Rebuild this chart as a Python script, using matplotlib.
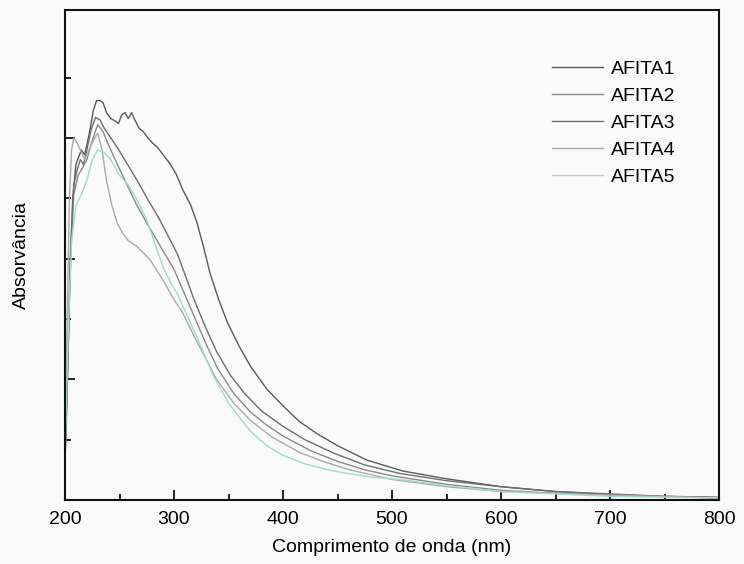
import numpy as np
import matplotlib
matplotlib.use("Agg")
import matplotlib.pyplot as plt
from matplotlib.ticker import FixedLocator, MultipleLocator

plt.rcParams['font.family'] = ['Liberation Sans', 'DejaVu Sans']

# wavelength (nm) and absorbance (arb. units)
wl1 = [200, 201, 204, 207, 210, 212, 215, 218, 220, 223, 226, 229, 232, 235, 238, 242, 246, 249,
       252, 255, 258, 261, 264, 268, 272, 276, 280, 285, 290, 296, 302, 308, 315, 321, 327, 333,
       341, 349, 360, 370, 385, 400, 415, 431, 450, 477, 510, 547, 600, 650, 700, 750, 800]
a1 = [0.35, 0.58, 1.66, 2.49, 2.78, 2.83, 2.90, 2.86, 2.94, 3.07, 3.23, 3.31, 3.31, 3.29, 3.21, 3.16,
      3.14, 3.12, 3.19, 3.21, 3.16, 3.21, 3.15, 3.08, 3.05, 3.00, 2.96, 2.92, 2.86, 2.79, 2.70, 2.57,
      2.45, 2.30, 2.10, 1.88, 1.66, 1.47, 1.27, 1.11, 0.92, 0.78, 0.65, 0.55, 0.45, 0.33, 0.24, 0.18,
      0.11, 0.07, 0.045, 0.028, 0.018]

wl2 = [200, 202, 205, 208, 212, 216, 220, 225, 230, 235, 240, 248, 257, 266, 276, 287, 300, 310,
       320, 330, 340, 355, 370, 385, 400, 425, 450, 475, 500, 550, 600, 650, 700, 800]
a2 = [0.33, 0.91, 1.99, 2.53, 2.69, 2.75, 2.82, 2.98, 3.11, 3.05, 2.94, 2.78, 2.61, 2.44, 2.28, 2.11,
      1.91, 1.70, 1.49, 1.28, 1.09, 0.88, 0.73, 0.62, 0.53, 0.41, 0.32, 0.25, 0.20, 0.13, 0.08, 0.055,
      0.04, 0.022]

wl3 = [200, 202, 205, 208, 211, 214, 217, 220, 224, 228, 232, 236, 242, 248, 256, 266, 276, 287,
       295, 303, 310, 318, 328, 339, 352, 365, 380, 400, 420, 446, 475, 507, 550, 600, 650, 700,
       750, 800]
a3 = [0.33, 0.99, 2.07, 2.61, 2.73, 2.82, 2.78, 2.90, 3.07, 3.17, 3.15, 3.08, 3.00, 2.92, 2.80, 2.65,
      2.49, 2.32, 2.18, 2.04, 1.87, 1.67, 1.45, 1.23, 1.03, 0.88, 0.74, 0.61, 0.50, 0.39, 0.29, 0.22,
      0.16, 0.11, 0.07, 0.05, 0.03, 0.022]

wl4 = [200, 202, 204, 206, 208, 211, 214, 218, 222, 226, 230, 234, 238, 243, 248, 253, 258, 266,
       278, 290, 300, 308, 320, 339, 355, 370, 390, 416, 440, 461, 500, 550, 600, 700, 800]
a4 = [0.50, 1.49, 2.49, 2.90, 3.00, 2.96, 2.90, 2.82, 2.90, 2.98, 3.04, 2.90, 2.65, 2.44, 2.29, 2.21,
      2.15, 2.10, 1.99, 1.82, 1.66, 1.55, 1.33, 1.00, 0.80, 0.66, 0.52, 0.39, 0.31, 0.25, 0.17, 0.11,
      0.07, 0.04, 0.017]

wl5 = [200, 203, 206, 210, 215, 220, 225, 230, 236, 242, 250, 258, 266, 275, 283, 290, 297, 303,
       312, 322, 335, 350, 370, 385, 400, 420, 446, 480, 507, 550, 600, 650, 700, 800]
a5 = [0.41, 1.41, 2.15, 2.44, 2.53, 2.65, 2.82, 2.90, 2.88, 2.82, 2.69, 2.61, 2.49, 2.32, 2.11, 1.93,
      1.80, 1.71, 1.53, 1.33, 1.05, 0.80, 0.57, 0.45, 0.37, 0.30, 0.24, 0.19, 0.17, 0.12, 0.07, 0.05,
      0.03, 0.017]

series = [
    ("AFITA1", wl1, a1, "#5a5a5a"),
    ("AFITA2", wl2, a2, "#8a8a8a"),
    ("AFITA3", wl3, a3, "#6e6e6e"),
    ("AFITA4", wl4, a4, "#ababab"),
    ("AFITA5", wl5, a5, "#a3d9d2"),
]

fig = plt.figure(figsize=(7.44, 5.64), dpi=100, facecolor="#fafafa")
ax = fig.add_axes([0.0874, 0.1135, 0.879, 0.8688])
ax.set_facecolor("#fafafa")

for name, x, y, c in series:
    ax.plot(x, y, color=c, lw=1.0, label=name)

ax.set_xlim(200, 800)
ax.set_ylim(0, 4.06)
ax.xaxis.set_major_locator(MultipleLocator(100))
ax.xaxis.set_minor_locator(MultipleLocator(50))
ax.yaxis.set_major_locator(FixedLocator([0, 1, 2, 3]))
ax.yaxis.set_minor_locator(FixedLocator([0.5, 1.5, 2.5, 3.5]))
ax.tick_params(which="both", direction="in", top=False, right=False, labelsize=14, width=1.2)
ax.tick_params(which="major", length=7, pad=8)
ax.tick_params(which="minor", length=4)
ax.tick_params(axis="y", labelleft=False)
for s in ax.spines.values():
    s.set_linewidth(1.5)
    s.set_color("#111111")

ax.set_xlabel("Comprimento de onda (nm)", fontsize=14, labelpad=8)
ax.set_ylabel("Absorvância", fontsize=14, labelpad=22)

ax.legend(loc="upper left", bbox_to_anchor=(0.719, 0.924), bbox_transform=fig.transFigure,
          frameon=False, fontsize=14, handlelength=2.6, handletextpad=0.4, labelspacing=0.48)

fig.savefig("out.png", dpi=100, facecolor=fig.get_facecolor())
